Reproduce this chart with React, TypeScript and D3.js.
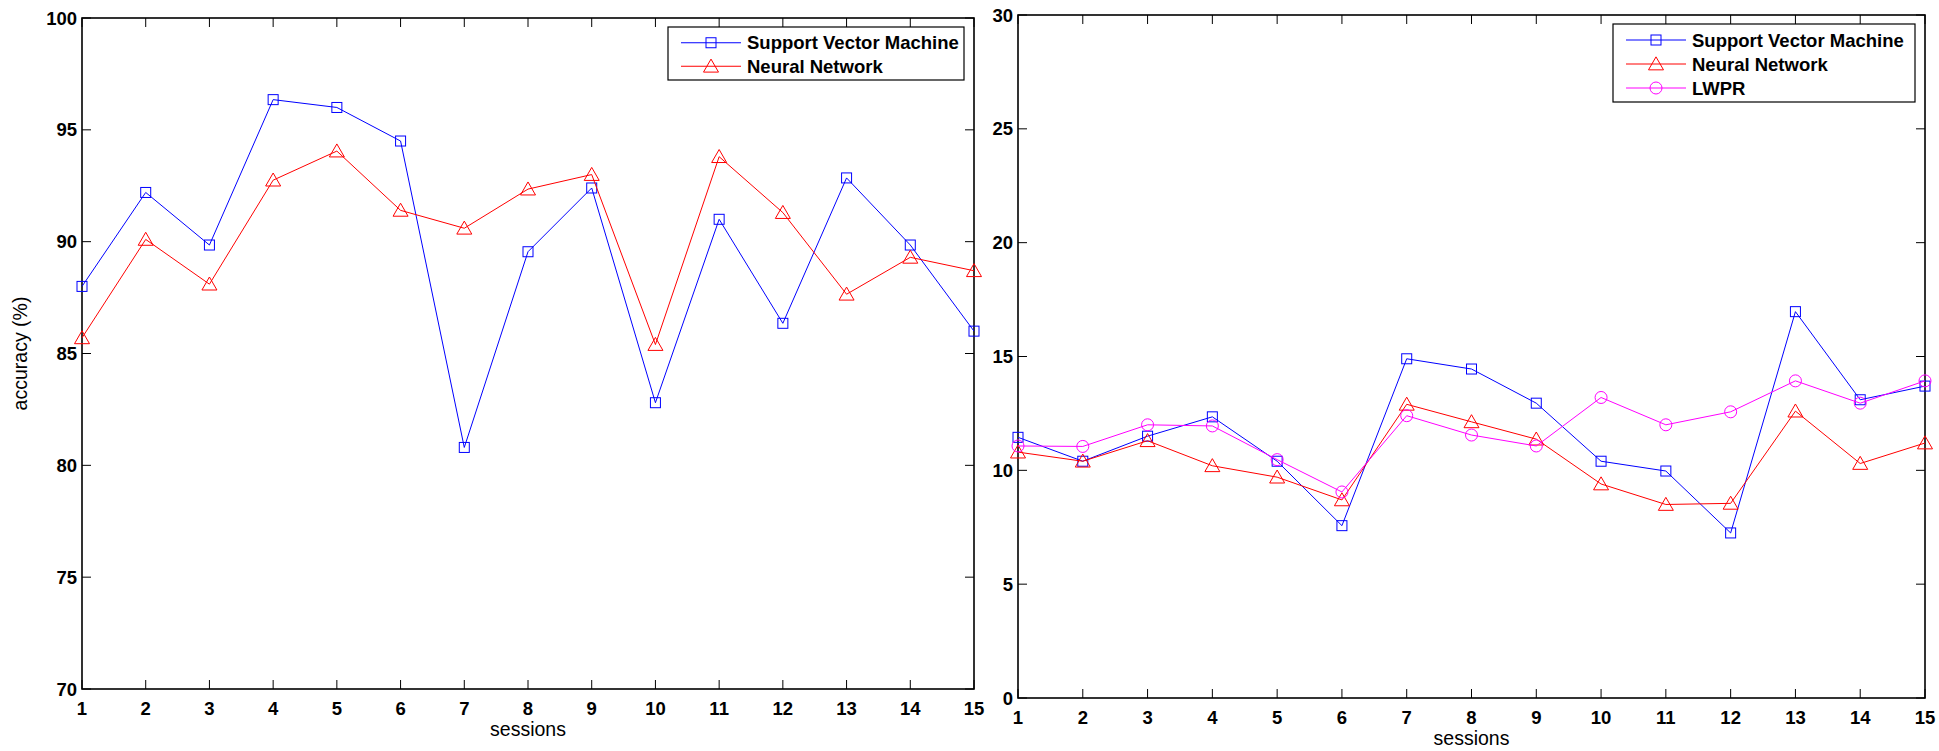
import React from "react";
import * as d3 from "d3";

const sessions = [1, 2, 3, 4, 5, 6, 7, 8, 9, 10, 11, 12, 13, 14, 15];

const accSVM = [88.0, 92.2, 89.85, 96.35, 96.0, 94.5, 80.8, 89.55, 92.4, 82.8, 91.0, 86.35, 92.85, 89.85, 86.0];
const accNN = [85.7, 90.1, 88.1, 92.75, 94.05, 91.4, 90.6, 92.35, 93.0, 85.4, 93.8, 91.3, 87.65, 89.3, 88.7];

const errSVM = [11.45, 10.4, 11.5, 12.35, 10.4, 7.57, 14.9, 14.45, 12.95, 10.4, 9.97, 7.25, 16.97, 13.1, 13.7];
const errNN = [10.8, 10.4, 11.3, 10.2, 9.7, 8.7, 12.9, 12.13, 11.37, 9.4, 8.5, 8.55, 12.6, 10.3, 11.2];
const errLWPR = [11.07, 11.05, 12.0, 11.95, 10.47, 9.05, 12.4, 11.55, 11.07, 13.2, 12.0, 12.57, 13.93, 12.95, 13.93];

const accTicks = [70, 75, 80, 85, 90, 95, 100];
const errTicks = [0, 5, 10, 15, 20, 25, 30];

const legendLeft = ["Support Vector Machine", "Neural Network"];
const legendRight = ["Support Vector Machine", "Neural Network", "LWPR"];

type MarkerKind = "square" | "triangle" | "circle";

const FONT = "'Liberation Sans', Arial, Helvetica, sans-serif";

function Marker({ kind, x, y, color }: { kind: MarkerKind; x: number; y: number; color: string }) {
  if (kind === "square") {
    return <rect x={x - 5} y={y - 5} width={10} height={10} fill="none" stroke={color} strokeWidth={1} />;
  }
  if (kind === "triangle") {
    const w = 7.5;
    const h = 13;
    return (
      <path
        d={`M${x},${y - h * 0.55} L${x + w},${y + h * 0.45} L${x - w},${y + h * 0.45} Z`}
        fill="none"
        stroke={color}
        strokeWidth={1}
      />
    );
  }
  return <circle cx={x} cy={y} r={6} fill="none" stroke={color} strokeWidth={1} />;
}

interface Series {
  name: string;
  values: number[];
  color: string;
  marker: MarkerKind;
}

interface PanelProps {
  x0: number;
  x1: number;
  y0: number;
  y1: number;
  domain: [number, number];
  ticks: number[];
  series: Series[];
  ylabel?: string;
  legend: { x0: number; x1: number; y0: number; y1: number };
}

function Panel({ x0, x1, y0, y1, domain, ticks, series, ylabel, legend }: PanelProps) {
  const xs = d3.scaleLinear().domain([1, 15]).range([x0, x1]);
  const ys = d3.scaleLinear().domain(domain).range([y1, y0]);
  const tl = 9;
  const line = d3
    .line<number>()
    .x((_, i) => xs(sessions[i]))
    .y((v) => ys(v));
  const rowH = (legend.y1 - legend.y0 - 6) / series.length;
  return (
    <g>
      {sessions.map((s) => (
        <g key={"xt" + s}>
          <line x1={xs(s)} x2={xs(s)} y1={y1} y2={y1 - tl} stroke="#000" strokeWidth={1} />
          <line x1={xs(s)} x2={xs(s)} y1={y0} y2={y0 + tl} stroke="#000" strokeWidth={1} />
          <text
            x={xs(s)}
            y={y1 + 26}
            textAnchor="middle"
            fontFamily={FONT}
            fontWeight="bold"
            fontSize={18.5}
          >
            {s}
          </text>
        </g>
      ))}
      {ticks.map((t) => (
        <g key={"yt" + t}>
          <line x1={x0} x2={x0 + tl} y1={ys(t)} y2={ys(t)} stroke="#000" strokeWidth={1} />
          <line x1={x1} x2={x1 - tl} y1={ys(t)} y2={ys(t)} stroke="#000" strokeWidth={1} />
          <text
            x={x0 - 5}
            y={ys(t)}
            dy="0.36em"
            textAnchor="end"
            fontFamily={FONT}
            fontWeight="bold"
            fontSize={18.5}
          >
            {t}
          </text>
        </g>
      ))}
      <rect x={x0} y={y0} width={x1 - x0} height={y1 - y0} fill="none" stroke="#000" strokeWidth={1.6} />
      {series.map((s) => (
        <g key={s.name}>
          <path d={line(s.values) || ""} fill="none" stroke={s.color} strokeWidth={1} />
          {s.values.map((v, i) => (
            <Marker key={i} kind={s.marker} x={xs(sessions[i])} y={ys(v)} color={s.color} />
          ))}
        </g>
      ))}
      <text
        x={(x0 + x1) / 2}
        y={y1 + 47}
        textAnchor="middle"
        fontFamily={FONT}
        fontSize={19.5}
      >
        sessions
      </text>
      {ylabel && (
        <text
          transform={`translate(27, ${(y0 + y1) / 2}) rotate(-90)`}
          textAnchor="middle"
          fontFamily={FONT}
          fontSize={19.5}
        >
          {ylabel}
        </text>
      )}
      <rect
        x={legend.x0}
        y={legend.y0}
        width={legend.x1 - legend.x0}
        height={legend.y1 - legend.y0}
        fill="#fff"
        stroke="#000"
        strokeWidth={1.2}
      />
      {series.map((s, i) => {
        const cy = legend.y0 + 3 + rowH * (i + 0.5) + 1;
        const lx0 = legend.x0 + 13;
        const lx1 = lx0 + 60;
        return (
          <g key={"lg" + s.name}>
            <line x1={lx0} x2={lx1} y1={cy} y2={cy} stroke={s.color} strokeWidth={1} />
            <Marker kind={s.marker} x={(lx0 + lx1) / 2} y={cy} color={s.color} />
            <text
              x={lx1 + 6}
              y={cy}
              dy="0.36em"
              fontFamily={FONT}
              fontWeight="bold"
              fontSize={18.5}
            >
              {s.name}
            </text>
          </g>
        );
      })}
    </g>
  );
}

export default function App() {
  const leftSeries: Series[] = [
    { name: legendLeft[0], values: accSVM, color: "#0000ff", marker: "square" },
    { name: legendLeft[1], values: accNN, color: "#ff0000", marker: "triangle" },
  ];
  const rightSeries: Series[] = [
    { name: legendRight[0], values: errSVM, color: "#0000ff", marker: "square" },
    { name: legendRight[1], values: errNN, color: "#ff0000", marker: "triangle" },
    { name: legendRight[2], values: errLWPR, color: "#ff00ff", marker: "circle" },
  ];
  return (
    <svg
      width={1939}
      height={751}
      style={{ position: "absolute", left: 0, top: 0, background: "#fff", overflow: "hidden" }}
    >
      <rect x={0} y={0} width={1939} height={751} fill="#fff" />
      <Panel
        x0={82}
        x1={974}
        y0={18}
        y1={689}
        domain={[70, 100]}
        ticks={accTicks}
        series={leftSeries}
        ylabel="accuracy (%)"
        legend={{ x0: 668, x1: 964, y0: 27, y1: 80 }}
      />
      <Panel
        x0={1018}
        x1={1925}
        y0={15}
        y1={698}
        domain={[0, 30]}
        ticks={errTicks}
        series={rightSeries}
        legend={{ x0: 1613, x1: 1915, y0: 24, y1: 102 }}
      />
    </svg>
  );
}
